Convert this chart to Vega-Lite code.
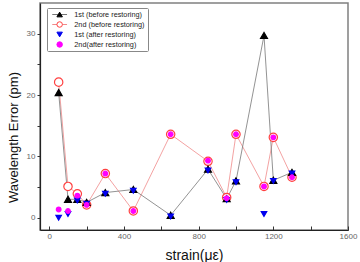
{
  "$schema": "https://vega.github.io/schema/vega-lite/v6.json",
  "width": 308,
  "height": 227,
  "autosize": {"type": "none"},
  "padding": {"left": 40, "top": 3, "right": 12, "bottom": 32},
  "background": "white",
  "config": {
    "view": {"stroke": "#808080", "strokeWidth": 1.5},
    "font": "Liberation Sans"
  },
  "data": {
    "values": [
      {"series": "2nd (before restoring)", "x": 50, "y": 22.1},
      {"series": "2nd (before restoring)", "x": 100, "y": 5.1},
      {"series": "2nd (before restoring)", "x": 150, "y": 3.9},
      {"series": "2nd (before restoring)", "x": 200, "y": 2.1},
      {"series": "2nd (before restoring)", "x": 300, "y": 7.2},
      {"series": "2nd (before restoring)", "x": 450, "y": 1.1},
      {"series": "2nd (before restoring)", "x": 650, "y": 13.6},
      {"series": "2nd (before restoring)", "x": 850, "y": 9.2},
      {"series": "2nd (before restoring)", "x": 950, "y": 3.3},
      {"series": "2nd (before restoring)", "x": 1000, "y": 13.6},
      {"series": "2nd (before restoring)", "x": 1150, "y": 5.1},
      {"series": "2nd (before restoring)", "x": 1200, "y": 13.1},
      {"series": "2nd (before restoring)", "x": 1300, "y": 6.6},
      {"series": "1st (before restoring)", "x": 50, "y": 20.4},
      {"series": "1st (before restoring)", "x": 100, "y": 3.0},
      {"series": "1st (before restoring)", "x": 150, "y": 3.0},
      {"series": "1st (before restoring)", "x": 200, "y": 2.5},
      {"series": "1st (before restoring)", "x": 300, "y": 4.1},
      {"series": "1st (before restoring)", "x": 450, "y": 4.6},
      {"series": "1st (before restoring)", "x": 650, "y": 0.4},
      {"series": "1st (before restoring)", "x": 850, "y": 7.9},
      {"series": "1st (before restoring)", "x": 950, "y": 3.1},
      {"series": "1st (before restoring)", "x": 1000, "y": 6.0},
      {"series": "1st (before restoring)", "x": 1150, "y": 29.7},
      {"series": "1st (before restoring)", "x": 1200, "y": 6.1},
      {"series": "1st (before restoring)", "x": 1300, "y": 7.4},
      {"series": "1st (after restoring)", "x": 50, "y": 0.0},
      {"series": "1st (after restoring)", "x": 100, "y": 0.6},
      {"series": "1st (after restoring)", "x": 150, "y": 2.8},
      {"series": "1st (after restoring)", "x": 200, "y": 2.3},
      {"series": "1st (after restoring)", "x": 300, "y": 3.9},
      {"series": "1st (after restoring)", "x": 450, "y": 4.4},
      {"series": "1st (after restoring)", "x": 650, "y": 0.2},
      {"series": "1st (after restoring)", "x": 850, "y": 7.7},
      {"series": "1st (after restoring)", "x": 950, "y": 2.9},
      {"series": "1st (after restoring)", "x": 1000, "y": 5.8},
      {"series": "1st (after restoring)", "x": 1150, "y": 0.6},
      {"series": "1st (after restoring)", "x": 1200, "y": 6.0},
      {"series": "1st (after restoring)", "x": 1300, "y": 7.2},
      {"series": "2nd(after restoring)", "x": 50, "y": 1.35},
      {"series": "2nd(after restoring)", "x": 100, "y": 1.1},
      {"series": "2nd(after restoring)", "x": 150, "y": 3.6},
      {"series": "2nd(after restoring)", "x": 200, "y": 2.1},
      {"series": "2nd(after restoring)", "x": 300, "y": 7.2},
      {"series": "2nd(after restoring)", "x": 450, "y": 1.1},
      {"series": "2nd(after restoring)", "x": 650, "y": 13.6},
      {"series": "2nd(after restoring)", "x": 850, "y": 9.3},
      {"series": "2nd(after restoring)", "x": 950, "y": 3.2},
      {"series": "2nd(after restoring)", "x": 1000, "y": 13.6},
      {"series": "2nd(after restoring)", "x": 1150, "y": 5.1},
      {"series": "2nd(after restoring)", "x": 1200, "y": 13.1},
      {"series": "2nd(after restoring)", "x": 1300, "y": 6.6}
    ]
  },
  "encoding": {
    "x": {
      "field": "x", "type": "quantitative",
      "scale": {"domain": [-50, 1600], "nice": false, "zero": false},
      "axis": {
        "title": "strain(με)",
        "values": [0, 200, 400, 600, 800, 1000, 1200, 1400, 1600],
        "format": "d",
        "labelExpr": "datum.value % 400 === 0 ? datum.label : ''",
        "grid": false,
        "tickSize": -4,
        "tickColor": "#333",
        "domainColor": "#222",
        "domainWidth": 1.2,
        "labelFontSize": 8,
        "labelColor": "#666",
        "labelPadding": 6,
        "labelFlush": false,
        "titleFontSize": 14,
        "titleFontWeight": "normal",
        "titleColor": "#111",
        "titleBaseline": "top",
        "titleY": 18
      }
    },
    "y": {
      "field": "y", "type": "quantitative",
      "scale": {"domain": [-2, 35], "nice": false, "zero": false},
      "axis": {
        "title": "Wavelength Error (pm)",
        "values": [0, 5, 10, 15, 20, 25, 30],
        "labelExpr": "datum.value % 10 === 0 ? datum.label : ''",
        "grid": false,
        "tickSize": 3,
        "tickColor": "#333",
        "domainColor": "#222",
        "domainWidth": 1.2,
        "labelFontSize": 8,
        "labelColor": "#666",
        "labelPadding": 2,
        "titleFontSize": 13,
        "titleFontWeight": "normal",
        "titleColor": "#111",
        "titleAlign": "center",
        "titleBaseline": "middle",
        "titleX": -27,
        "titleY": 134
      }
    }
  },
  "layer": [
    {
      "transform": [{"filter": "datum.series === '2nd (before restoring)' || datum.series === '1st (before restoring)'"}],
      "mark": {"type": "line", "strokeWidth": 0.8},
      "encoding": {
        "order": {"field": "x", "type": "quantitative"},
        "color": {
          "field": "series", "type": "nominal",
          "scale": {
            "domain": ["1st (before restoring)", "2nd (before restoring)"],
            "range": ["#777777", "#f08a8a"]
          },
          "legend": {
            "title": null,
            "orient": "none",
            "legendX": 7,
            "legendY": 5,
            "padding": 3,
            "rowPadding": 2,
            "clipHeight": 7,
            "labelFontSize": 7.3,
            "labelExpr": "''",
            "labelOffset": 11,
            "symbolSize": 30,
            "symbolType": "M-2.7,0H2.7",
            "symbolStrokeWidth": 1,
            "strokeColor": "transparent",
            "fillColor": "transparent",
            "symbolOffset": 6,
            "zindex": 1
          }
        }
      }
    },
    {
      "mark": {"type": "point", "filled": true, "strokeWidth": 1.2, "opacity": 1},
      "encoding": {
        "shape": {
          "field": "series", "type": "nominal",
          "scale": {
            "domain": ["1st (before restoring)", "2nd (before restoring)", "1st (after restoring)", "2nd(after restoring)"],
            "range": ["triangle-up", "circle", "triangle-down", "circle"]
          },
          "legend": {
            "title": null,
            "orient": "none",
            "legendX": 7,
            "legendY": 5,
            "padding": 3,
            "rowPadding": 2,
            "clipHeight": 7,
            "labelFontSize": 7.3,
            "labelColor": "#222",
            "labelOffset": 11,
            "labelLimit": 200,
            "symbolSize": 30,
            "symbolStrokeWidth": 1,
            "strokeColor": "#888",
            "fillColor": "transparent",
            "cornerRadius": 1,
            "symbolOffset": 6,
            "zindex": 2
          }
        },
        "fill": {
          "field": "series", "type": "nominal",
          "scale": {
            "domain": ["1st (before restoring)", "2nd (before restoring)", "1st (after restoring)", "2nd(after restoring)"],
            "range": ["#000000", "#ffffff", "#0000ee", "#ff00ff"]
          }
        },
        "stroke": {
          "field": "series", "type": "nominal",
          "scale": {
            "domain": ["1st (before restoring)", "2nd (before restoring)", "1st (after restoring)", "2nd(after restoring)"],
            "range": ["#000000", "#ff4040", "#0000ee", "#ff00ff"]
          }
        },
        "size": {
          "condition": [
            {"test": "datum.series === '2nd (before restoring)'", "value": 70},
            {"test": "datum.series === '1st (before restoring)'", "value": 48},
            {"test": "datum.series === '1st (after restoring)'", "value": 30}
          ],
          "value": 22
        }
      }
    }
  ]
}
